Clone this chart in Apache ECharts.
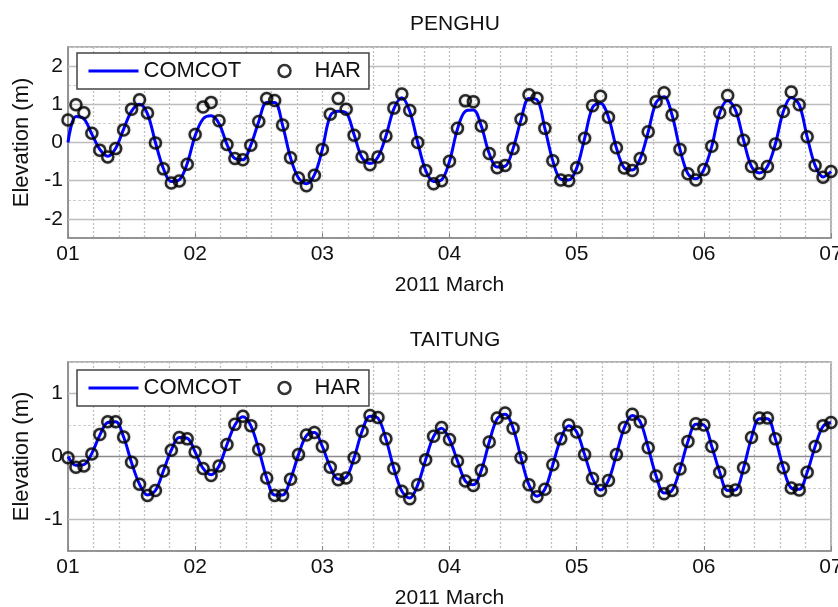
<!DOCTYPE html>
<html>
<head>
<meta charset="utf-8">
<script src="https://cdn.jsdelivr.net/npm/echarts@6/dist/echarts.min.js"></script>
<style>
html,body{margin:0;padding:0;background:#fff;}
#chart{width:838px;height:607px;}
</style>
</head>
<body>
<div id="chart"></div>
<script>
// Tick labels (days of March 2011)
const dayLabels = ['01','02','03','04','05','06','07'];
const xAxisTitle = '2011 March';
const yAxisTitle = 'Elevation (m)';
const stationNames = ['PENGHU', 'TAITUNG'];
const penghuYTicks = [-2, -1, 0, 1, 2];
const taitungYTicks = [-1, 0, 1];
const sampleHours = 1.5; // sampling step of the series (hours)

// PENGHU
const penghuHAR = [0.59, 0.99, 0.78, 0.24, -0.20, -0.38, -0.16, 0.33, 0.87, 1.12, 0.77, -0.01, -0.69, -1.06, -1.01, -0.57,
 0.21, 0.93, 1.05, 0.57, -0.05, -0.42, -0.45, -0.07, 0.55, 1.15, 1.10, 0.46, -0.40, -0.93, -1.13, -0.86,
 -0.18, 0.74, 1.15, 0.87, 0.19, -0.38, -0.58, -0.38, 0.17, 0.90, 1.27, 0.84, 0.00, -0.73, -1.08, -1.00,
 -0.49, 0.37, 1.09, 1.07, 0.43, -0.29, -0.66, -0.60, -0.16, 0.61, 1.25, 1.16, 0.37, -0.48, -0.98, -1.00,
 -0.66, 0.11, 0.96, 1.21, 0.66, -0.14, -0.67, -0.73, -0.42, 0.28, 1.07, 1.30, 0.72, -0.18, -0.82, -0.98,
 -0.71, -0.10, 0.78, 1.23, 0.84, 0.06, -0.63, -0.82, -0.63, -0.04, 0.81, 1.32, 0.99, 0.15, -0.60, -0.91,
 -0.76];
const penghuCOMCOT = [0.00, 0.68, 0.62, 0.22, -0.18, -0.36, -0.15, 0.35, 0.82, 1.00, 0.75, 0.00, -0.68, -1.02, -0.98, -0.55,
 0.18, 0.62, 0.70, 0.50, -0.05, -0.42, -0.45, -0.07, 0.55, 1.05, 1.05, 0.45, -0.40, -0.93, -1.08, -0.85,
 -0.18, 0.70, 0.82, 0.78, 0.20, -0.40, -0.55, -0.38, 0.17, 0.88, 1.17, 0.82, 0.00, -0.73, -1.02, -0.98,
 -0.49, 0.35, 0.82, 0.85, 0.43, -0.29, -0.64, -0.62, -0.16, 0.60, 1.15, 1.12, 0.37, -0.48, -0.96, -0.98,
 -0.67, 0.11, 0.92, 1.03, 0.66, -0.14, -0.67, -0.72, -0.42, 0.28, 1.05, 1.20, 0.72, -0.18, -0.82, -0.95,
 -0.71, -0.10, 0.78, 1.10, 0.84, 0.06, -0.63, -0.80, -0.63, -0.04, 0.81, 1.18, 0.99, 0.15, -0.60, -0.90,
 -0.76];

// TAITUNG
const taitungHAR = [-0.02, -0.17, -0.15, 0.04, 0.35, 0.55, 0.55, 0.31, -0.09, -0.44, -0.62, -0.54, -0.23, 0.10, 0.30, 0.28,
 0.07, -0.19, -0.30, -0.15, 0.19, 0.51, 0.64, 0.49, 0.11, -0.34, -0.62, -0.62, -0.36, 0.03, 0.34, 0.38,
 0.16, -0.17, -0.37, -0.34, -0.02, 0.40, 0.65, 0.62, 0.28, -0.19, -0.55, -0.67, -0.45, -0.05, 0.32, 0.46,
 0.27, -0.07, -0.39, -0.46, -0.22, 0.23, 0.61, 0.69, 0.45, -0.02, -0.45, -0.64, -0.52, -0.13, 0.28, 0.50,
 0.39, 0.03, -0.35, -0.54, -0.38, 0.03, 0.46, 0.67, 0.55, 0.14, -0.31, -0.59, -0.54, -0.20, 0.24, 0.52,
 0.50, 0.16, -0.25, -0.55, -0.53, -0.18, 0.30, 0.61, 0.61, 0.28, -0.18, -0.50, -0.53, -0.25, 0.16, 0.49,
 0.54];
const taitungCOMCOT = [0.00, -0.14, -0.13, 0.05, 0.34, 0.54, 0.55, 0.31, -0.10, -0.44, -0.61, -0.54, -0.23, 0.10, 0.30, 0.29,
 0.07, -0.19, -0.29, -0.15, 0.19, 0.50, 0.63, 0.49, 0.11, -0.34, -0.61, -0.61, -0.36, 0.03, 0.33, 0.38,
 0.16, -0.17, -0.36, -0.33, -0.02, 0.40, 0.64, 0.61, 0.28, -0.19, -0.55, -0.66, -0.45, -0.05, 0.32, 0.45,
 0.27, -0.07, -0.39, -0.45, -0.22, 0.23, 0.60, 0.67, 0.45, -0.02, -0.45, -0.63, -0.52, -0.13, 0.28, 0.49,
 0.39, 0.03, -0.35, -0.53, -0.38, 0.03, 0.46, 0.65, 0.55, 0.14, -0.31, -0.58, -0.54, -0.20, 0.24, 0.51,
 0.50, 0.16, -0.25, -0.54, -0.53, -0.18, 0.30, 0.60, 0.60, 0.28, -0.18, -0.50, -0.52, -0.25, 0.16, 0.48,
 0.54];

function toXY(arr) {
  return arr.map((v, i) => [i * sampleHours / 24, v]);
}

const FONT = 'Liberation Sans, Arial, sans-serif';
const chart = echarts.init(document.getElementById('chart'), null, {renderer: 'canvas'});

function xAxisCfg(gridIndex) {
  return {
    gridIndex, type: 'value', min: 0, max: 6, interval: 1,
    name: xAxisTitle, nameLocation: 'middle', nameGap: 37,
    nameTextStyle: {fontSize: 21, color: '#111', fontFamily: FONT},
    axisLine: {show: true, onZero: false, lineStyle: {color: '#888', width: 1.5}},
    axisTick: {show: true, inside: true, length: 5, lineStyle: {color: '#888'}},
    axisLabel: {fontSize: 21, color: '#111', fontFamily: FONT, margin: 6,
      formatter: v => dayLabels[Math.round(v)]},
    splitLine: {show: true, lineStyle: {color: '#bfbfbf', type: [2, 2], width: 1.3}},
    minorTick: {show: false, splitNumber: 5},
    minorSplitLine: {show: true, lineStyle: {color: '#bfbfbf', type: [2, 2], width: 1.3}}
  };
}
function yAxisCfg(gridIndex, lim) {
  return {
    gridIndex, type: 'value', min: -lim, max: lim, interval: 0.5,
    name: yAxisTitle, nameLocation: 'middle', nameGap: 32, nameRotate: 90,
    nameTextStyle: {fontSize: 22, color: '#111', fontFamily: FONT},
    axisLine: {show: true, lineStyle: {color: '#888', width: 1.5}},
    axisTick: {show: false},
    axisLabel: {fontSize: 21, color: '#111', fontFamily: FONT, margin: 5,
      formatter: v => (Number.isInteger(v) ? String(v) : '')},
    splitLine: {show: true, lineStyle: {color: '#cdcdcd', type: [3, 2], width: 1}}
  };
}

function tickLines(ticks, zeroColor) {
  return {
    silent: true, symbol: 'none', label: {show: false}, animation: false, z: 1,
    data: ticks.map(t => ({yAxis: t, lineStyle: {color: t === 0 ? zeroColor : '#bdbdbd', type: 'solid', width: 1.3}}))
  };
}

const lineSeries = (name, gi, data, ticks, zeroColor) => ({
  name, type: 'line', xAxisIndex: gi, yAxisIndex: gi, data: toXY(data),
  symbol: 'none', showSymbol: false, smooth: 0.35, z: 3,
  lineStyle: {color: '#0000ff', width: 3}, itemStyle: {color: '#0000ff'},
  markLine: tickLines(ticks, zeroColor)
});
const harSeries = (name, gi, data) => ({
  name, type: 'scatter', xAxisIndex: gi, yAxisIndex: gi, data: toXY(data),
  symbol: 'circle', symbolSize: 11, z: 4,
  itemStyle: {color: 'rgba(0,0,0,0)', borderColor: '#000', borderWidth: 2.5,
    shadowColor: 'rgba(0,0,0,0.35)', shadowBlur: 2}
});

const legendCfg = (top) => ({
  left: 77, top, orient: 'horizontal', z: 30,
  backgroundColor: '#fff', borderColor: '#444', borderWidth: 1.5,
  padding: [7, 8, 7, 10], itemWidth: 50, itemHeight: 12, itemGap: 36,
  textStyle: {fontSize: 22, color: '#111', fontFamily: FONT},
  data: [
    {name: 'COMCOT', itemStyle: {opacity: 0}, lineStyle: {width: 3, color: '#0000ff'}},
    {name: 'HAR', itemStyle: {color: 'rgba(0,0,0,0)', borderColor: '#000', borderWidth: 2.5}}
  ],
  selectedMode: false
});

chart.setOption({
  backgroundColor: '#fff',
  animation: false,
  title: [
    {text: stationNames[0], left: 450, top: 9, textAlign: 'center',
     textStyle: {fontSize: 21, fontWeight: 'normal', color: '#111', fontFamily: FONT}},
    {text: stationNames[1], left: 450, top: 325, textAlign: 'center',
     textStyle: {fontSize: 21, fontWeight: 'normal', color: '#111', fontFamily: FONT}}
  ],
  legend: [legendCfg(53), legendCfg(370)],
  grid: [
    {left: 68, right: 7, top: 47, height: 191, show: true, borderColor: '#999', borderWidth: 1.5,
     backgroundColor: '#fff', containLabel: false, outerBoundsMode: 'none'},
    {left: 68, right: 7, top: 362, height: 189, show: true, borderColor: '#999', borderWidth: 1.5,
     backgroundColor: '#fff', containLabel: false, outerBoundsMode: 'none'}
  ],
  xAxis: [xAxisCfg(0), xAxisCfg(1)],
  yAxis: [yAxisCfg(0, 2.5), yAxisCfg(1, 1.5)],
  series: [
    lineSeries('COMCOT', 0, penghuCOMCOT, penghuYTicks, '#bdbdbd'),
    harSeries('HAR', 0, penghuHAR),
    lineSeries('COMCOT', 1, taitungCOMCOT, taitungYTicks, '#8a8a8a'),
    harSeries('HAR', 1, taitungHAR)
  ]
});
</script>
</body>
</html>
